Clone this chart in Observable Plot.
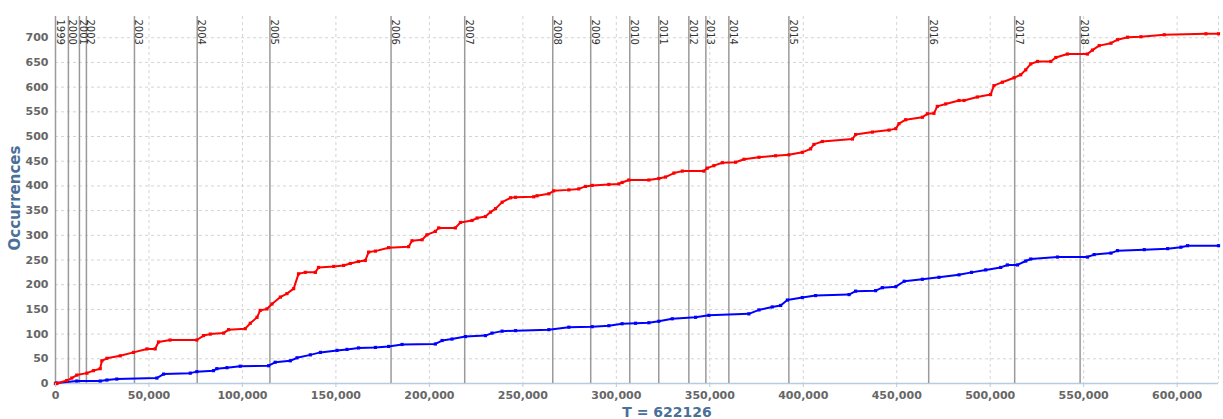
<!DOCTYPE html>
<html>
<head>
<meta charset="utf-8">
<script src="https://cdn.jsdelivr.net/npm/d3@7"></script>
<script src="https://cdn.jsdelivr.net/npm/@observablehq/plot@0.6"></script>
<style>
  html, body { margin: 0; padding: 0; background: #fff; }
  #chart svg { display: block; }
</style>
</head>
<body>
<div id="chart"></div>
<script>
// ---- Data ----
const T_END = 622126;

const redT = [0, 700, 6000, 8700, 11400, 16800, 20300, 23900, 24800, 27500, 34600, 41700, 48900, 53300, 55100, 61300, 75600, 79200, 82800, 89900, 92600, 101500, 104200, 107800, 109500, 113100, 115800, 120300, 123800, 127400, 130000, 133600, 139000, 140700, 148800, 154100, 157700, 162100, 165700, 167500, 171100, 178200, 188900, 190700, 196100, 198700, 203200, 205000, 213900, 216600, 222800, 225500, 230000, 232700, 235400, 238900, 243400, 246100, 255800, 257600, 263900, 266500, 274600, 279900, 283500, 287100, 296000, 301300, 303100, 306700, 317400, 322700, 326300, 330800, 335300, 346800, 348600, 352200, 356700, 363800, 368300, 376300, 385200, 392300, 399500, 403900, 405700, 410200, 426300, 428000, 437000, 445900, 449500, 451200, 454800, 463700, 466400, 469900, 471700, 476200, 483300, 486000, 493100, 500200, 502000, 506500, 512800, 516300, 519000, 521700, 525300, 532400, 535100, 541300, 552000, 554700, 558300, 564600, 568100, 573500, 580600, 593100, 615400, 622126];
const redN = [0, 0, 6, 11, 17, 21, 26, 30, 46, 51, 56, 63, 70, 70, 84, 88, 88, 97, 100, 102, 109, 111, 122, 134, 148, 151, 161, 175, 182, 192, 222, 225, 225, 235, 237, 239, 243, 247, 249, 266, 268, 275, 277, 289, 291, 301, 308, 315, 315, 326, 330, 335, 338, 347, 354, 367, 376, 377, 378, 380, 384, 390, 392, 394, 399, 401, 403, 404, 407, 412, 412, 415, 418, 426, 430, 430, 436, 441, 447, 448, 454, 458, 461, 463, 468, 475, 484, 490, 495, 504, 509, 513, 516, 526, 534, 539, 546, 547, 561, 566, 573, 573, 580, 585, 603, 610, 619, 625, 635, 647, 652, 652, 660, 667, 667, 675, 684, 689, 696, 701, 702, 706, 708, 708];

const blueT = [0, 700, 11400, 23900, 27500, 32800, 54200, 57800, 72100, 75600, 84500, 86300, 91700, 98800, 114000, 117500, 125600, 129200, 136300, 141700, 150600, 155900, 162100, 171100, 178200, 185400, 203200, 206800, 212100, 219300, 230000, 233500, 238900, 246100, 263900, 274600, 287100, 296000, 303100, 310300, 317400, 322700, 329900, 342400, 349500, 370900, 376300, 383400, 387900, 391500, 399500, 406600, 424500, 428000, 438700, 442300, 449500, 454000, 463700, 472600, 483300, 490000, 497600, 505600, 509200, 514600, 519000, 521700, 536000, 552000, 555600, 564600, 568100, 582400, 594900, 602000, 605600, 622126];
const blueN = [0, 1, 5, 5, 7, 9, 11, 19, 21, 24, 26, 30, 32, 35, 36, 43, 46, 52, 58, 63, 67, 69, 72, 73, 75, 79, 80, 87, 90, 95, 97, 102, 106, 107, 109, 114, 115, 117, 121, 122, 123, 126, 131, 134, 138, 141, 149, 155, 158, 169, 174, 178, 180, 187, 188, 194, 196, 207, 211, 215, 220, 225, 230, 235, 240, 240, 248, 252, 256, 256, 261, 264, 269, 271, 273, 276, 279, 279];

const yearNames = ["1999", "2000", "2001", "2002", "2003", "2004", "2005", "2006", "2007", "2008", "2009", "2010", "2011", "2012", "2013", "2014", "2015", "2016", "2017", "2018"];
const yearT = [0, 6900, 12800, 16540, 42240, 75800, 114700, 179500, 218900, 266000, 286300, 307200, 322700, 338800, 347900, 360200, 392300, 467100, 513100, 548100];

const xTicks = [0, 50000, 100000, 150000, 200000, 250000, 300000, 350000, 400000, 450000, 500000, 550000, 600000];
const yTicks = [0, 50, 100, 150, 200, 250, 300, 350, 400, 450, 500, 550, 600, 650, 700];

const xLabel = "T = " + T_END;
const yLabel = "Occurrences";

// ---- Tables ----
const red = redT.map((t, i) => ({t, n: redN[i]}));
const blue = blueT.map((t, i) => ({t, n: blueN[i]}));
const years = yearT.map((t, i) => ({t, name: yearNames[i]}));

const labelColor = "#4a6f98";
const tickColor = "#666";
const font = "'DejaVu Sans', sans-serif";

const chart = Plot.plot({
  width: 1223,
  height: 419,
  marginLeft: 55,
  marginRight: 5,
  marginTop: 16,
  marginBottom: 36,
  style: {fontFamily: font, background: "#fff", overflow: "visible"},
  x: {domain: [0, T_END], ticks: xTicks, tickFormat: d3.format(","), label: null},
  y: {domain: [0, 743], ticks: yTicks, label: null},
  marks: [
    Plot.gridX(xTicks, {stroke: "#d4d4d4", strokeOpacity: 1, strokeDasharray: "3,3"}),
    Plot.gridY(yTicks, {stroke: "#d4d4d4", strokeOpacity: 1, strokeDasharray: "3,3"}),
    Plot.ruleX([T_END], {stroke: "#d4d4d4", strokeDasharray: "3,3"}),
    Plot.ruleY([0], {stroke: "#b8cbe0", strokeWidth: 1.5}),
    Plot.ruleX(years, {x: "t", stroke: "#9a9a9a", strokeWidth: 1.5}),
    Plot.text(years, {
      x: "t", text: "name", frameAnchor: "top", rotate: 90,
      textAnchor: "start", lineAnchor: "bottom", dy: 3, dx: 1,
      fontSize: 10, fill: "#333"
    }),
    Plot.line(blue, {x: "t", y: "n", stroke: "#0000ff", strokeWidth: 2}),
    Plot.dot(blue, {x: "t", y: "n", fill: "#0000ff", r: 1.8, symbol: "square"}),
    Plot.line(red, {x: "t", y: "n", stroke: "#ff0000", strokeWidth: 2}),
    Plot.dot(red, {x: "t", y: "n", fill: "#ff0000", r: 1.8, symbol: "square"}),
    Plot.axisX(xTicks, {
      tickFormat: d3.format(","), tickSize: 4, tickPadding: 4, stroke: "#b8cbe0",
      fill: tickColor, fontWeight: "bold", fontSize: 11, label: null
    }),
    Plot.axisY(yTicks, {
      tickSize: 0, tickPadding: 7, fill: tickColor, fontWeight: "bold", fontSize: 11, label: null
    }),
    Plot.text([yLabel], {
      frameAnchor: "left", textAnchor: "middle", lineAnchor: "middle",
      dx: -40, dy: -2, rotate: -90,
      fill: labelColor, fontWeight: "bold", fontSize: 15
    }),
    Plot.text([xLabel], {
      frameAnchor: "bottom", textAnchor: "middle", lineAnchor: "middle",
      dx: 30, dy: 29,
      fill: labelColor, fontWeight: "bold", fontSize: 14
    })
  ]
});

document.getElementById("chart").appendChild(chart);
</script>
</body>
</html>
